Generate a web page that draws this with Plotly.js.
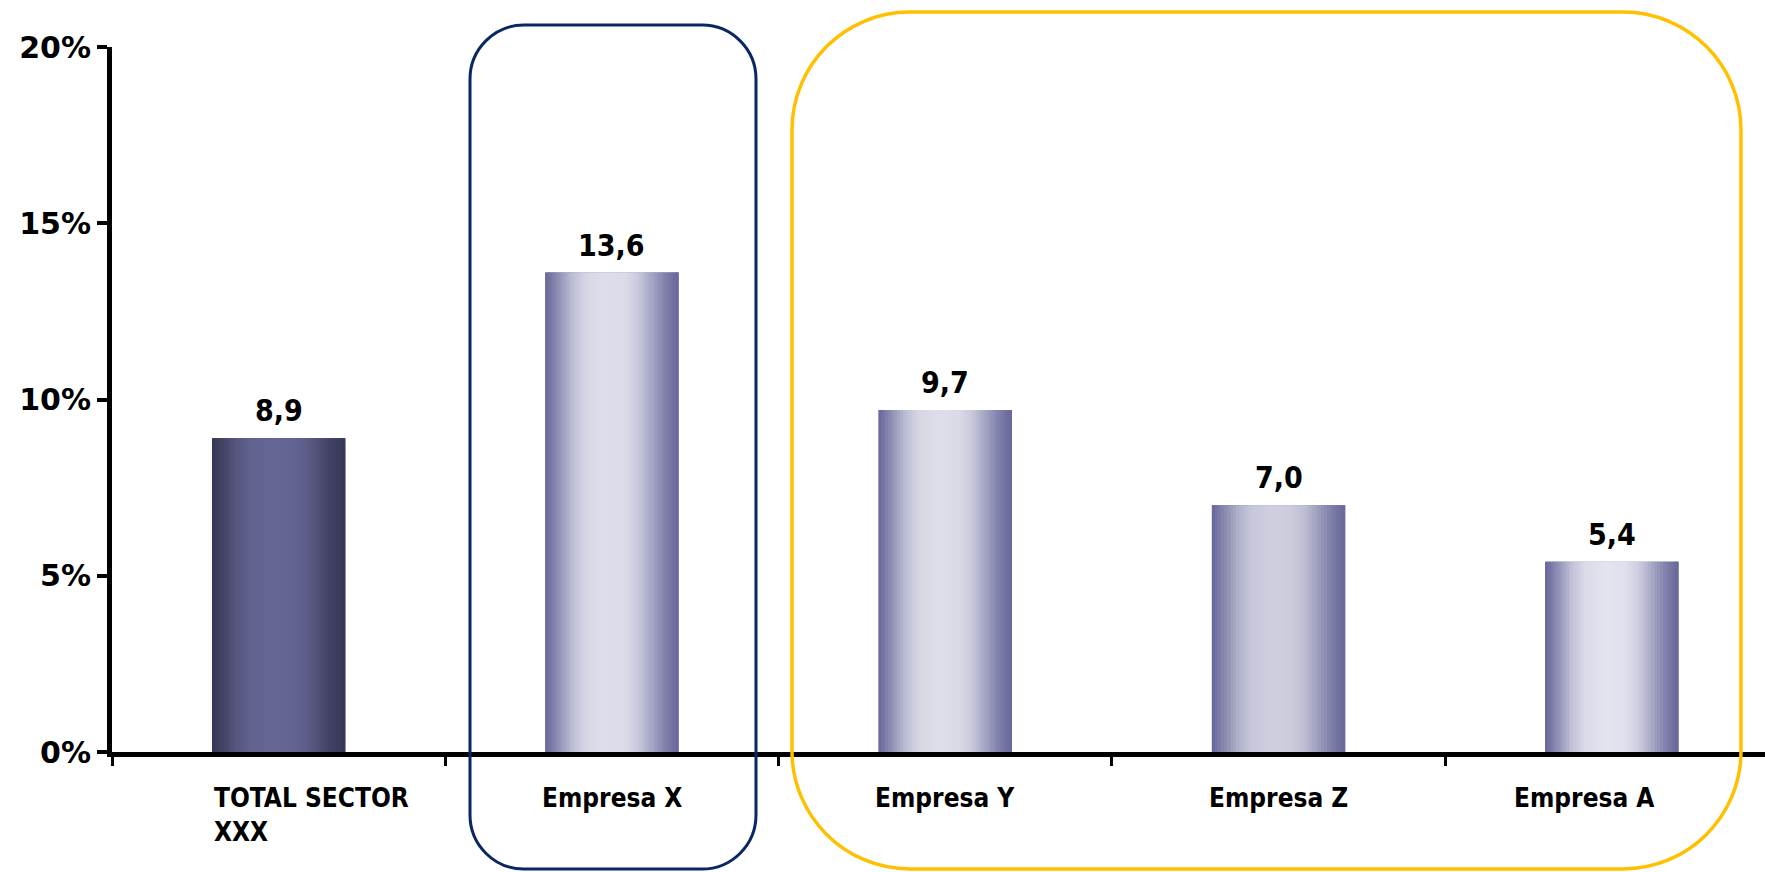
<!DOCTYPE html>
<html>
<head>
<meta charset="utf-8">
<script src="https://cdn.plot.ly/plotly-3.0.1.min.js"></script>
<style>html,body{margin:0;padding:0;background:#fff;overflow:hidden}</style>
</head>
<body>
<div id="chart" style="width:1765px;height:872px"></div>
<script>
// ---------- data ----------
const categories = ['TOTAL SECTOR XXX', 'Empresa X', 'Empresa Y', 'Empresa Z', 'Empresa A'];
const categoryLabels = ['TOTAL SECTOR<br>XXX', 'Empresa X', 'Empresa Y', 'Empresa Z', 'Empresa A'];
const values = [8.9, 13.6, 9.7, 7.0, 5.4];
const yTickVals = [0, 5, 10, 15, 20];
const yTickText = ['0%', '5%', '10%', '15%', '20%'];

// ---------- style ----------
const FIG_W = 1765, FIG_H = 872;
const MARGIN = {l: 112, r: 0, t: 47, b: 120, pad: 0};
const CAT_PX = 333.3;                 // pixel width of one category
const BAR_W = 0.4;
const X_MAX = -0.5 + (FIG_W - MARGIN.l - MARGIN.r) / CAT_PX;
const edgeRGB   = [[54,54,84],[102,102,153],[102,102,153],[102,102,153],[102,102,153]];
const centerRGB = [[102,102,150],[222,222,235],[222,222,234],[207,207,224],[228,228,240]];
const gradProfile = [[0,0],[0.1,0.35],[0.2,0.72],[0.3,0.93],[0.45,1],[0.6,0.97],[0.7,0.82],[0.8,0.52],[0.9,0.22],[1,0]];
const N_STRIPES = 44;
const labelShift = [0, 0, 0, 0, -28];
const CONDENSED = 'DejaVu Sans Condensed, DejaVu Sans, sans-serif';

function profileAt(t) {
  for (let i = 1; i < gradProfile.length; i++) {
    const [t0, v0] = gradProfile[i-1], [t1, v1] = gradProfile[i];
    if (t <= t1) return v0 + (v1 - v0) * (t - t0) / (t1 - t0);
  }
  return 0;
}
function mix(a, b, f) {
  return 'rgb(' + a.map((c, i) => Math.round(c + (b[i] - c) * f)).join(',') + ')';
}

const traces = [];
// base bar
traces.push({
  type: 'bar', x: categories, y: values,
  width: BAR_W, offset: -BAR_W / 2,
  marker: {color: edgeRGB.map(c => 'rgb(' + c.join(',') + ')'), line: {width: 0}},
  hoverinfo: 'x+y', showlegend: false
});
// gradient stripes drawn over the base bar
const step = BAR_W / N_STRIPES;
for (let k = 0; k < N_STRIPES; k++) {
  const f = profileAt((k + 0.5) / N_STRIPES);
  traces.push({
    type: 'bar', x: categories, y: values,
    width: k === N_STRIPES - 1 ? step : step * 1.6,
    offset: -BAR_W / 2 + k * step,
    marker: {color: categories.map((_, i) => mix(edgeRGB[i], centerRGB[i], f)), line: {width: 0}},
    hoverinfo: 'skip', showlegend: false
  });
}

// ---------- rounded frames ----------
const PW = FIG_W - MARGIN.l - MARGIN.r, PH = FIG_H - MARGIN.t - MARGIN.b;
const px2x = p => ((p - MARGIN.l) / PW).toFixed(5);
const px2y = p => ((FIG_H - MARGIN.b - p) / PH).toFixed(5);
function roundRect(x0, y0, x1, y1, r) {
  const k = 0.5523 * r;
  const P = (x, y) => px2x(x) + ',' + px2y(y);
  return 'M' + P(x0 + r, y0) +
    ' L' + P(x1 - r, y0) +
    ' C' + P(x1 - r + k, y0) + ' ' + P(x1, y0 + r - k) + ' ' + P(x1, y0 + r) +
    ' L' + P(x1, y1 - r) +
    ' C' + P(x1, y1 - r + k) + ' ' + P(x1 - r + k, y1) + ' ' + P(x1 - r, y1) +
    ' L' + P(x0 + r, y1) +
    ' C' + P(x0 + r - k, y1) + ' ' + P(x0, y1 - r + k) + ' ' + P(x0, y1 - r) +
    ' L' + P(x0, y0 + r) +
    ' C' + P(x0, y0 + r - k) + ' ' + P(x0 + r - k, y0) + ' ' + P(x0 + r, y0) + ' Z';
}
const shapes = [
  {type: 'path', xref: 'paper', yref: 'paper', layer: 'above',
   path: roundRect(470, 25, 756, 869, 54), line: {color: '#0A2764', width: 3}},
  {type: 'path', xref: 'paper', yref: 'paper', layer: 'above',
   path: roundRect(792, 12, 1741, 869, 118), line: {color: '#FFC000', width: 3.5}}
];

// ---------- category labels ----------
const catAnnotations = categoryLabels.map((lbl, i) => ({
  x: i === 0 ? i - BAR_W / 2 : i, xref: 'x',
  y: 0, yref: 'paper', yanchor: 'top', yshift: -29,
  xanchor: i === 0 ? 'left' : 'center', align: 'left',
  xshift: labelShift[i],
  text: lbl, showarrow: false,
  font: {family: CONDENSED, size: 26, color: '#000', weight: 'bold'}
}));
// ---------- value labels ----------
const valueAnnotations = values.map((v, i) => ({
  x: i, xref: 'x', y: v, yref: 'y', yanchor: 'bottom', yshift: 8,
  xanchor: 'center', showarrow: false,
  text: v.toFixed(1).replace('.', ','),
  font: {family: CONDENSED, size: 30, color: '#000', weight: 'bold'}
}));

const layout = {
  width: FIG_W, height: FIG_H, margin: MARGIN,
  paper_bgcolor: '#fff', plot_bgcolor: '#fff',
  barmode: 'overlay', separators: ',.', showlegend: false,
  xaxis: {
    type: 'category', range: [-0.5, X_MAX],
    showline: true, linecolor: '#000', linewidth: 5,
    ticks: 'outside', tickson: 'boundaries', ticklen: 9, tickwidth: 3, tickcolor: '#000',
    showticklabels: false, showgrid: false, zeroline: false, fixedrange: true
  },
  yaxis: {
    range: [0, 20], tickmode: 'array', tickvals: yTickVals, ticktext: yTickText,
    showline: true, linecolor: '#000', linewidth: 5,
    ticks: 'outside', ticklen: 10, tickwidth: 4, tickcolor: '#000',
    tickfont: {family: 'DejaVu Sans, sans-serif', size: 30, color: '#000', weight: 'bold'},
    showgrid: false, zeroline: false, fixedrange: true
  },
  shapes: shapes,
  annotations: catAnnotations.concat(valueAnnotations)
};

Plotly.newPlot('chart', traces, layout, {displayModeBar: false, staticPlot: true});
</script>
</body>
</html>
